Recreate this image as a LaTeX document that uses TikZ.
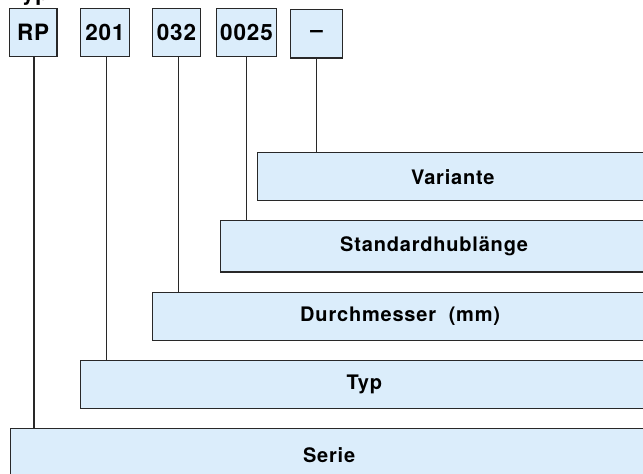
\documentclass[tikz,border=0pt]{standalone}
\usepackage{fontspec}
\setmainfont{TeX Gyre Heros}
\newfontfamily\lblfont{TeX Gyre Heros}[LetterSpace=4.0]
\definecolor{boxfill}{RGB}{219,237,251}
\definecolor{boxline}{RGB}{40,40,40}
\begin{document}
\begin{tikzpicture}[x=1pt,y=-1pt]
\tikzset{
  codebox/.style={rectangle, draw=boxline, fill=boxfill, line width=1.4pt, inner sep=0pt,
    minimum height=48.4pt, font=\lblfont\bfseries\fontsize{22.5}{24}\selectfont},
  descbox/.style={rectangle, draw=boxline, fill=boxfill, line width=1.4pt, inner sep=0pt,
    font=\lblfont\bfseries\fontsize{20}{22}\selectfont},
  conn/.style={draw=boxline, line width=1.2pt}
}
\useasboundingbox (0,0) rectangle (643,474);
% partially visible heading
\node[anchor=base west, inner sep=0pt, font=\lblfont\bfseries\fontsize{22.5}{24}\selectfont] (heading) at (9,0.5) {Typ};
% code boxes
\node[codebox, minimum width=47.7pt] (rp) at (33.2,32.5) {RP};
\node[codebox, minimum width=48.6pt] (c201) at (105,32.5) {201};
\node[codebox, minimum width=48.4pt] (c032) at (176.5,32.5) {032};
\node[codebox, minimum width=59.6pt] (c0025) at (246.5,32.5) {0025};
\node[codebox, minimum width=52pt] (cvar) at (316.7,33.7) {–};
% description boxes
\node[descbox, minimum width=390.3pt, minimum height=48pt] (variante) at (452.85,176.7) {Variante};
\node[descbox, minimum width=427.7pt, minimum height=51.3pt] (hub) at (434.15,246.35) {Standardhublänge};
\node[descbox, minimum width=495.7pt, minimum height=47.8pt] (durch) at (400.15,316.4) {Durchmesser\ \ (mm)};
\node[descbox, minimum width=567.3pt, minimum height=48pt] (typ) at (364.35,384.3) {Typ};
\node[descbox, minimum width=637.7pt, minimum height=53.3pt] (serie) at (329.15,455.35) {Serie};
% connectors
\draw[conn] (cvar.south) -- (cvar.south |- variante.north);
\draw[conn] (c0025.south) -- (c0025.south |- hub.north);
\draw[conn] ([xshift=1.8pt]c032.south) -- ([xshift=1.8pt]c032.south |- durch.north);
\draw[conn] ([xshift=1.3pt]c201.south) -- ([xshift=1.3pt]c201.south |- typ.north);
\draw[conn] ([xshift=0.8pt]rp.south) -- ([xshift=0.8pt]rp.south |- serie.north);
\end{tikzpicture}
\end{document}
